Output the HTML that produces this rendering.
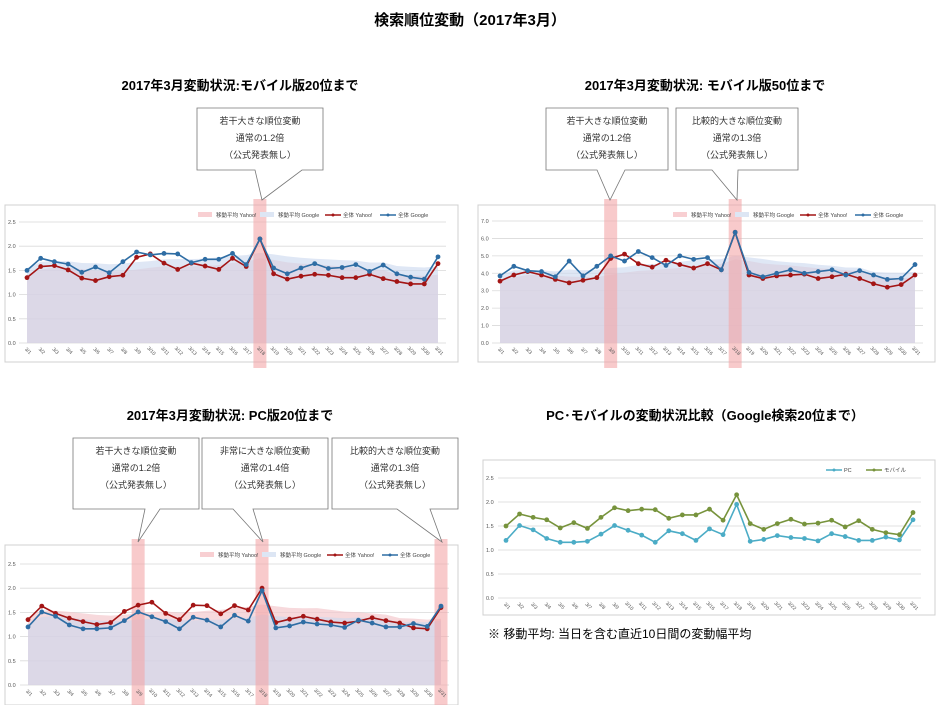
<!DOCTYPE html>
<html><head><meta charset="utf-8">
<style>
html,body{margin:0;padding:0;background:#fff;width:940px;height:705px;overflow:hidden}
svg{display:block;font-family:"Liberation Sans","Noto Sans CJK JP",sans-serif}
</style></head><body>
<svg id="s" width="940" height="705" viewBox="0 0 940 705" xmlns="http://www.w3.org/2000/svg">
<text x="470" y="25" text-anchor="middle" font-size="15" font-weight="bold">検索順位変動（2017年3月）</text>
<text x="240" y="90" text-anchor="middle" font-size="13" font-weight="bold">2017年3月変動状況:モバイル版20位まで</text>
<text x="705" y="90" text-anchor="middle" font-size="13" font-weight="bold">2017年3月変動状況: モバイル版50位まで</text>
<text x="230" y="420" text-anchor="middle" font-size="13" font-weight="bold">2017年3月変動状況: PC版20位まで</text>
<text x="705" y="420" text-anchor="middle" font-size="13" font-weight="bold">PC･モバイルの変動状況比較（Google検索20位まで）</text>
<text x="488" y="638" font-size="12">※ 移動平均: 当日を含む直近10日間の変動幅平均</text>
<g id="g"></g>
</svg>
<script>
var NS="http://www.w3.org/2000/svg",G=document.getElementById("g");
function el(t,a,txt){var e=document.createElementNS(NS,t);for(var k in a)e.setAttribute(k,a[k]);if(txt!=null)e.textContent=txt;G.appendChild(e);return e;}
function ma(d){var r=[];for(var i=0;i<d.length;i++){var s=0,n=0;for(var j=Math.max(0,i-9);j<=i;j++){s+=d[j];n++;}r.push(s/n+0.05);}return r;}
function callout(x1,x2,y1,y2,b1,b2,tx,ty,lines){
 el("path",{d:"M"+x1+","+y1+"H"+x2+"V"+y2+"H"+b2+"L"+tx+","+ty+"L"+b1+","+y2+"H"+x1+"Z",fill:"#fff",stroke:"#777","stroke-width":0.8});
 var cx=(x1+x2)/2;lines.forEach(function(l,i){el("text",{x:cx,y:y1+16+i*17,"text-anchor":"middle","font-size":9,fill:"#333"},l);});
}
function chart(o){
 el("rect",{x:o.bx,y:o.by,width:o.bw,height:o.bh,fill:"#fff",stroke:"#d0d0d0","stroke-width":1});
 var n=31,X=function(i){return o.x0+(o.x1-o.x0)*i/30;},Y=function(v){return o.y0+(o.yt-o.y0)*v/o.max;};
 // grid
 for(var k=0;k<=o.steps;k++){var v=o.max*k/o.steps,y=Y(v);
  el("line",{x1:o.x0-8,x2:o.x1+8,y1:y,y2:y,stroke:"#d9d9d9","stroke-width":0.8});
  el("text",{x:o.bx+3,y:y+2,"font-size":5.5,fill:"#555"},v.toFixed(1));}
 // areas
 if(o.area){o.series.forEach(function(s,si){var m=ma(s.d),p="M"+X(0)+","+Y(0);m.forEach(function(v,i){p+="L"+X(i)+","+Y(v);});p+="L"+X(30)+","+Y(0)+"Z";
  el("path",{d:p,fill:si==0?"#f3c9cd":"#c9d7ee","fill-opacity":si==0?0.7:0.6});});}
 // highlights
 (o.hl||[]).forEach(function(i){el("rect",{x:X(i)-6.5,y:o.by-6,width:13,height:o.bh+12,fill:"#f4a6a8","fill-opacity":0.6});});
 // labels
 for(var i=0;i<n;i++){var x=X(i),y=o.y0+9;el("text",{x:x,y:y,"font-size":5,fill:"#555","text-anchor":"middle",transform:"rotate(45 "+x+" "+y+")"},"3/"+(i+1));}
 // lines
 o.series.forEach(function(s){var p="";s.d.forEach(function(v,i){p+=(i?"L":"M")+X(i)+","+Y(v);});
  el("path",{d:p,fill:"none",stroke:s.c,"stroke-width":1.6});
  s.d.forEach(function(v,i){el("circle",{cx:X(i),cy:Y(v),r:2.4,fill:s.c});});});
 // legend
 var lx=o.lx,ly=o.by+10;
 o.leg.forEach(function(L){if(L.area){el("rect",{x:lx,y:ly-3,width:14,height:5,fill:L.c});}else{el("line",{x1:lx,x2:lx+16,y1:ly,y2:ly,stroke:L.c,"stroke-width":1.5});el("circle",{cx:lx+8,cy:ly,r:1.5,fill:L.c});}
  el("text",{x:lx+18,y:ly+2,"font-size":5.5,fill:"#444"},L.t);lx+=L.w;});
}
var c1g=[1.5,1.75,1.68,1.63,1.46,1.57,1.45,1.68,1.88,1.82,1.85,1.84,1.66,1.73,1.73,1.85,1.62,2.15,1.55,1.43,1.55,1.64,1.54,1.56,1.62,1.48,1.61,1.43,1.36,1.32,1.78];
var c1y=[1.35,1.58,1.6,1.51,1.34,1.29,1.37,1.4,1.77,1.84,1.65,1.52,1.65,1.59,1.52,1.75,1.58,2.15,1.43,1.32,1.38,1.42,1.4,1.35,1.35,1.42,1.33,1.27,1.22,1.22,1.64];
var c2g=[3.85,4.4,4.15,4.1,3.8,4.7,3.85,4.4,5.0,4.7,5.25,4.9,4.45,5.0,4.8,4.9,4.2,6.35,4.05,3.8,4.0,4.2,4.0,4.1,4.2,3.9,4.15,3.9,3.65,3.7,4.5];
var c2y=[3.55,3.9,4.1,3.9,3.65,3.45,3.6,3.75,4.85,5.1,4.55,4.35,4.75,4.5,4.3,4.55,4.2,6.35,3.9,3.7,3.85,3.9,3.95,3.7,3.8,3.95,3.7,3.4,3.2,3.35,3.9];
var c3y=[1.35,1.63,1.48,1.38,1.31,1.25,1.29,1.52,1.65,1.71,1.48,1.35,1.65,1.64,1.47,1.64,1.55,2.0,1.29,1.36,1.42,1.36,1.3,1.28,1.32,1.39,1.33,1.28,1.18,1.16,1.6];
var c3g=[1.2,1.51,1.42,1.24,1.16,1.16,1.18,1.33,1.51,1.41,1.31,1.16,1.4,1.34,1.2,1.44,1.32,1.95,1.18,1.22,1.3,1.26,1.24,1.19,1.34,1.28,1.2,1.2,1.27,1.21,1.63];
var leg4=[{t:"移動平均 Yahoo!",c:"#f8cfd2",area:1,w:62},{t:"移動平均 Google",c:"#dde6f4",area:1,w:65},{t:"全体 Yahoo!",c:"#a31515",w:55},{t:"全体 Google",c:"#2e6da4",w:55}];
var R="#a31515",B="#2e6da4";
chart({bx:5,by:205,bw:453,bh:157,x0:27,x1:438,y0:343,yt:222,max:2.5,steps:5,area:1,hl:[17],lx:198,leg:leg4,series:[{d:c1y,c:R},{d:c1g,c:B}]});
chart({bx:478,by:205,bw:457,bh:157,x0:500,x1:915,y0:343,yt:221,max:7,steps:7,area:1,hl:[8,17],lx:673,leg:leg4,series:[{d:c2y,c:R},{d:c2g,c:B}]});
chart({bx:5,by:545,bw:453,bh:160,x0:28,x1:441,y0:685,yt:564,max:2.5,steps:5,area:1,hl:[8,17,30],lx:200,leg:leg4,series:[{d:c3y,c:R},{d:c3g,c:B}]});
chart({bx:483,by:460,bw:452,bh:155,x0:506,x1:913,y0:598,yt:478,max:2.5,steps:5,area:0,hl:[],lx:826,leg:[{t:"PC",c:"#4bacc6",w:40},{t:"モバイル",c:"#77933c",w:50}],series:[{d:c3g,c:"#4bacc6"},{d:c1g,c:"#77933c"}]});
callout(197,323,108,170,255,302,262,200,["若干大きな順位変動","通常の1.2倍","（公式発表無し）"]);
callout(546,668,108,170,597,625,610,200,["若干大きな順位変動","通常の1.2倍","（公式発表無し）"]);
callout(676,798,108,170,712,738,737,200,["比較的大きな順位変動","通常の1.3倍","（公式発表無し）"]);
callout(73,199,438,509,145,160,138,542,["若干大きな順位変動","通常の1.2倍","（公式発表無し）"]);
callout(202,328,438,509,233,253,263,542,["非常に大きな順位変動","通常の1.4倍","（公式発表無し）"]);
callout(332,458,438,509,397,430,442,542,["比較的大きな順位変動","通常の1.3倍","（公式発表無し）"]);
</script>
</body></html>
